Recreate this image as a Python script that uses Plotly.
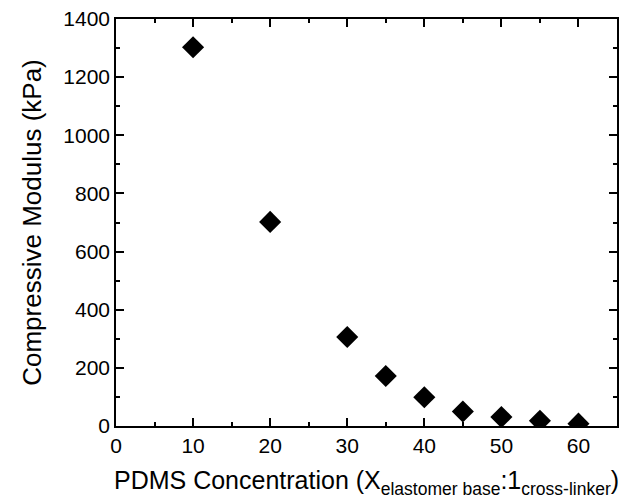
import plotly.graph_objects as go

concentration = [10, 20, 30, 35, 40, 45, 50, 55, 60]
modulus_kpa = [1303, 702, 306, 172, 99, 50, 31, 18, 8]

x_ticks = [0, 10, 20, 30, 40, 50, 60]
y_ticks = [0, 200, 400, 600, 800, 1000, 1200, 1400]

fig = go.Figure()
fig.add_trace(go.Scatter(
    x=concentration, y=modulus_kpa, mode="markers",
    marker=dict(symbol="diamond", size=17, color="black"),
    showlegend=False,
))

axis_common = dict(
    showline=True, linecolor="black", linewidth=1.5, mirror="ticks",
    ticks="inside", ticklen=8, tickwidth=1.5, tickcolor="black",
    showgrid=False, zeroline=False,
    tickfont=dict(family="Liberation Sans, Arial", size=21, color="black"),
)

fig.update_xaxes(
    range=[0, 65], tickvals=x_ticks,
    minor=dict(dtick=5, ticks="inside", ticklen=4, tickwidth=1.5, tickcolor="black"),
    title=dict(text="PDMS Concentration (X<sub>elastomer base</sub>:1<sub>cross-linker</sub>)",
               font=dict(family="Liberation Sans, Arial", size=25, color="black"), standoff=16),
    **axis_common,
)
fig.update_yaxes(
    range=[0, 1400], tickvals=y_ticks,
    minor=dict(dtick=100, ticks="inside", ticklen=4, tickwidth=1.5, tickcolor="black"),
    title=dict(text="Compressive Modulus (kPa)",
               font=dict(family="Liberation Sans, Arial", size=26, color="black"), standoff=14),
    **axis_common,
)

fig.update_layout(
    width=626, height=504,
    margin=dict(l=116, r=7, t=18, b=78),
    plot_bgcolor="white", paper_bgcolor="white",
)

fig.write_html("out.html")
